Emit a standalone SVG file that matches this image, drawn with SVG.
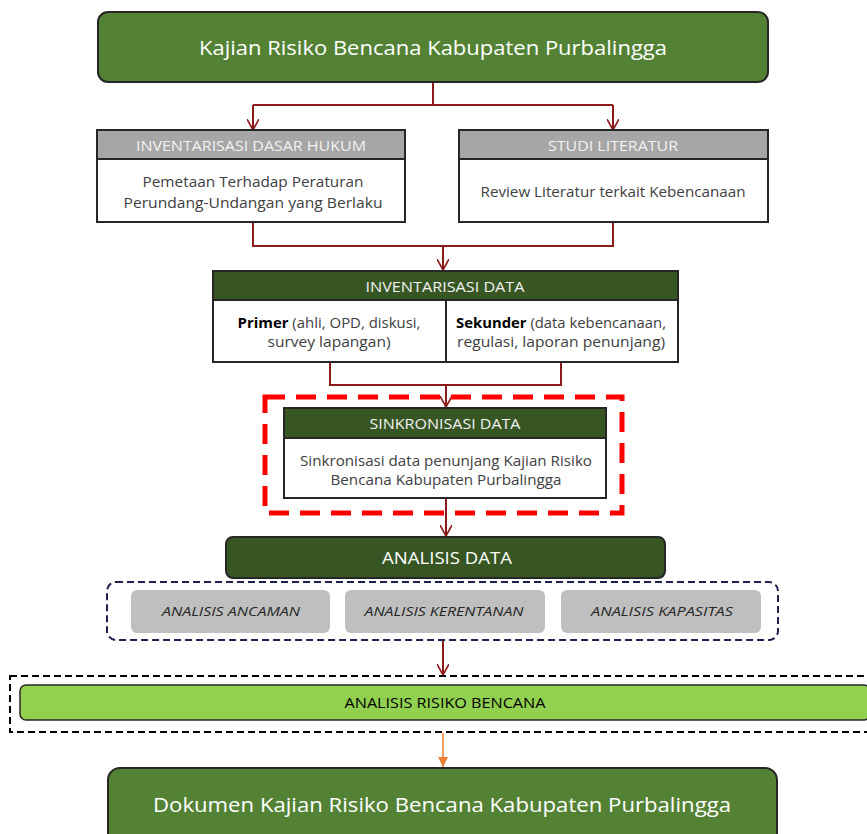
<svg xmlns="http://www.w3.org/2000/svg" width="867" height="834" viewBox="0 0 867 834">
<defs>
<style>
text{font-family:"Open Sans","Liberation Sans",sans-serif;text-anchor:middle}
.big{fill:#fff;font-size:20px}
.hd{fill:#f2f2f2;font-size:14px}
.bd{fill:#404040;font-size:14px}
.an{fill:#262626;font-size:13px;font-style:italic}
.ln{fill:none;stroke:#8b1a1a;stroke-width:2}
.box{stroke:#262626;stroke-width:2}
</style>
<marker id="v" viewBox="0 0 12 12" refX="11" refY="6" markerWidth="12" markerHeight="12" markerUnits="userSpaceOnUse" orient="auto">
<path d="M0,0 L11,6 L0,12" fill="none" stroke="#8b1a1a" stroke-width="1.6"/>
</marker>
<marker id="o" viewBox="0 0 10 10" refX="5" refY="10" markerWidth="10" markerHeight="10" markerUnits="userSpaceOnUse">
<path d="M0,0 L10,0 L5,10 Z" fill="#ed7d31"/>
</marker>
</defs>
<rect width="867" height="834" fill="#fff"/>

<g id="connectors">
<path class="ln" d="M433,82 V105 M253,105 H613"/>
<path class="ln" d="M253,105 V130" marker-end="url(#v)"/>
<path class="ln" d="M613,105 V130" marker-end="url(#v)"/>
<path class="ln" d="M253,222 V246 H613 V222"/>
<path class="ln" d="M443,246 V270" marker-end="url(#v)"/>
<path class="ln" d="M330,362 V385 H561 V362"/>
<path class="ln" d="M446,385 V407" marker-end="url(#v)"/>
<path class="ln" d="M446,498 V536" marker-end="url(#v)"/>
<path class="ln" d="M443,641 V675" marker-end="url(#v)"/>
<path d="M443,733 V767" stroke="#ed7d31" stroke-width="1.5" marker-end="url(#o)"/>
</g>

<g id="kajian">
<rect class="box" x="98" y="12" width="670" height="70" rx="10" fill="#548235"/>
<text class="big" x="433" y="55" textLength="468" lengthAdjust="spacingAndGlyphs">Kajian Risiko Bencana Kabupaten Purbalingga</text>
</g>

<g id="dasar-hukum">
<rect class="box" x="97" y="130" width="308" height="29" fill="#a6a6a6"/>
<rect class="box" x="97" y="159" width="308" height="63" fill="#fff"/>
<text class="hd" x="251" y="151" textLength="230" lengthAdjust="spacingAndGlyphs">INVENTARISASI DASAR HUKUM</text>
<text class="bd" x="253" y="187" textLength="221" lengthAdjust="spacingAndGlyphs">Pemetaan Terhadap Peraturan</text>
<text class="bd" x="253" y="208" textLength="259" lengthAdjust="spacingAndGlyphs">Perundang-Undangan yang Berlaku</text>
</g>

<g id="studi-literatur">
<rect class="box" x="459" y="130" width="309" height="29" fill="#a6a6a6"/>
<rect class="box" x="459" y="159" width="309" height="63" fill="#fff"/>
<text class="hd" x="613" y="151" textLength="130" lengthAdjust="spacingAndGlyphs">STUDI LITERATUR</text>
<text class="bd" x="613" y="197" textLength="265" lengthAdjust="spacingAndGlyphs">Review Literatur terkait Kebencanaan</text>
</g>

<g id="inventarisasi-data">
<rect class="box" x="213" y="271" width="465" height="29" fill="#375623"/>
<rect class="box" x="213" y="300" width="233" height="62" fill="#fff"/>
<rect class="box" x="446" y="300" width="232" height="62" fill="#fff"/>
<text class="hd" x="445" y="292" textLength="159" lengthAdjust="spacingAndGlyphs">INVENTARISASI DATA</text>
<text class="bd" x="329" y="328" textLength="183" lengthAdjust="spacingAndGlyphs"><tspan fill="#000" font-weight="bold">Primer</tspan> (ahli, OPD, diskusi,</text>
<text class="bd" x="329" y="347" textLength="123" lengthAdjust="spacingAndGlyphs">survey lapangan)</text>
<text class="bd" x="561" y="328" textLength="210" lengthAdjust="spacingAndGlyphs"><tspan fill="#000" font-weight="bold">Sekunder</tspan> (data kebencanaan,</text>
<text class="bd" x="561" y="347" textLength="208" lengthAdjust="spacingAndGlyphs">regulasi, laporan penunjang)</text>
</g>

<g id="sinkronisasi">
<rect x="265" y="397" width="357" height="116" fill="none" stroke="#ff0000" stroke-width="5" stroke-dasharray="20 11"/>
<rect class="box" x="284" y="408" width="322" height="30" fill="#375623"/>
<rect class="box" x="284" y="438" width="322" height="60" fill="#fff"/>
<text class="hd" x="445" y="429" textLength="151" lengthAdjust="spacingAndGlyphs">SINKRONISASI DATA</text>
<text class="bd" x="446" y="466" textLength="292" lengthAdjust="spacingAndGlyphs">Sinkronisasi data penunjang Kajian Risiko</text>
<text class="bd" x="446" y="485" textLength="231" lengthAdjust="spacingAndGlyphs">Bencana Kabupaten Purbalingga</text>
</g>

<g id="analisis-data">
<rect class="box" x="226" y="537" width="439" height="41" rx="7" fill="#375623" stroke-width="1.5"/>
<text x="447" y="564" fill="#fff" font-size="17" textLength="130" lengthAdjust="spacingAndGlyphs">ANALISIS DATA</text>
</g>

<g id="analisis-group">
<rect x="107" y="582" width="671" height="58" rx="9" fill="none" stroke="#1f1f4f" stroke-width="2" stroke-dasharray="7 4"/>
</g>
<g id="ancaman">
<rect x="131" y="590" width="199" height="43" rx="6" fill="#bfbfbf"/>
<text class="an" x="231" y="616" textLength="138" lengthAdjust="spacingAndGlyphs">ANALISIS ANCAMAN</text>
</g>
<g id="kerentanan">
<rect x="345" y="590" width="200" height="43" rx="6" fill="#bfbfbf"/>
<text class="an" x="444" y="616" textLength="159" lengthAdjust="spacingAndGlyphs">ANALISIS KERENTANAN</text>
</g>
<g id="kapasitas">
<rect x="561" y="590" width="200" height="43" rx="6" fill="#bfbfbf"/>
<text class="an" x="662" y="616" textLength="142" lengthAdjust="spacingAndGlyphs">ANALISIS KAPASITAS</text>
</g>

<g id="risiko-group">
<rect x="10" y="676" width="870" height="56" fill="none" stroke="#000" stroke-width="2" stroke-dasharray="7 4"/>
</g>
<g id="analisis-risiko">
<rect x="20" y="685" width="850" height="35" rx="6" fill="#92d050" stroke="#262626" stroke-width="1.5"/>
<text x="445" y="708" fill="#000" font-size="14" textLength="201" lengthAdjust="spacingAndGlyphs">ANALISIS RISIKO BENCANA</text>
</g>

<g id="dokumen">
<rect class="box" x="108" y="768" width="669" height="80" rx="12" fill="#548235"/>
<text class="big" x="442" y="812" textLength="578" lengthAdjust="spacingAndGlyphs">Dokumen Kajian Risiko Bencana Kabupaten Purbalingga</text>
</g>
</svg>
